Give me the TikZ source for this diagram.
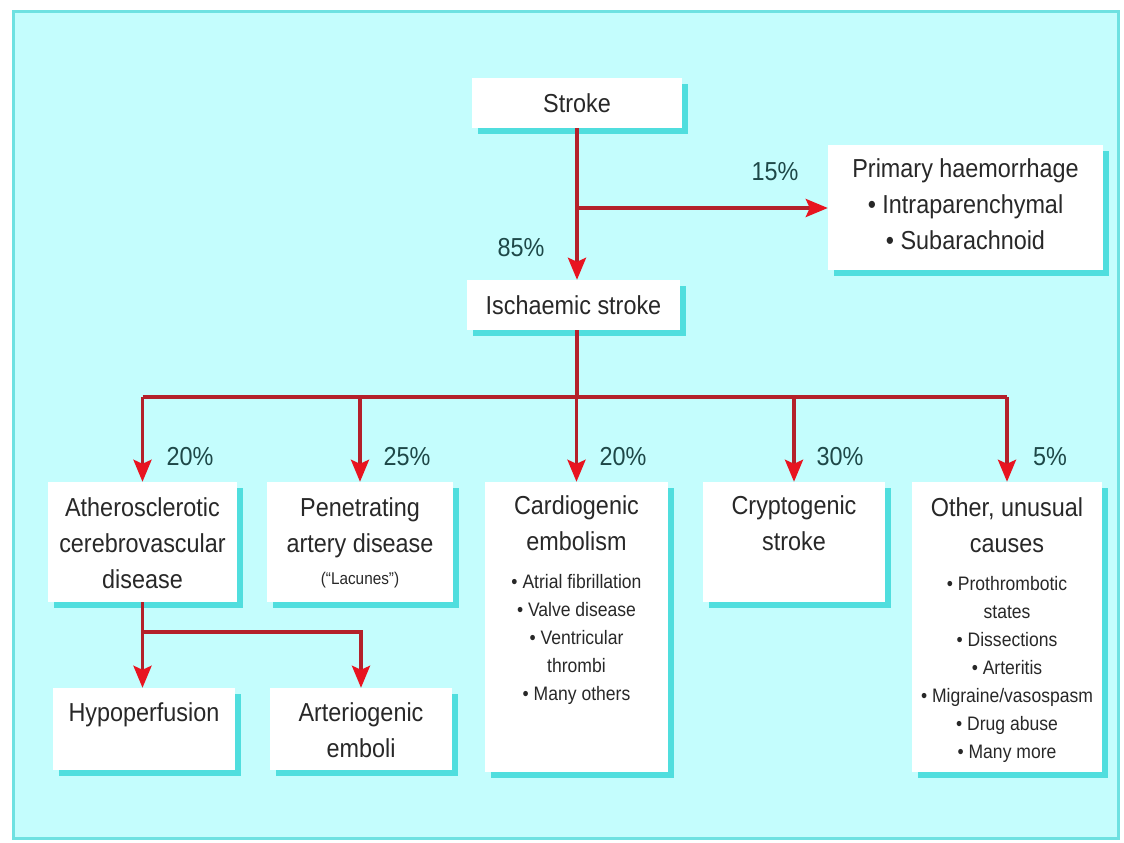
\documentclass[tikz,border=0pt]{standalone}
\usepackage{fontspec}
\setmainfont{Liberation Sans}[FakeStretch=0.9]
\usetikzlibrary{arrows.meta,shadows}
\definecolor{bgcyan}{RGB}{196,253,253}
\definecolor{framecyan}{RGB}{110,225,225}
\definecolor{shadowcyan}{RGB}{80,222,222}
\definecolor{linered}{RGB}{180,32,42}
\definecolor{tipred}{RGB}{232,20,32}
\definecolor{txt}{RGB}{40,40,40}
\definecolor{pct}{RGB}{30,72,72}
\newcommand{\bigf}{\fontsize{26}{36}\selectfont}
\newcommand{\smallf}{\fontsize{19.5}{28}\selectfont}
\newcommand{\bxt}[4]{\parbox[c][#2pt][t]{#1pt}{\bigf\centering\rule{0pt}{#3pt}#4\par}}
\tikzset{
  box/.style={fill=white, inner sep=0pt, text=txt,
    drop shadow={shadow xshift=6pt, shadow yshift=-6pt, fill=shadowcyan, opacity=1}},
  ln/.style={draw=linered, line width=3.5pt},
  arr/.style={ln, -{Stealth[length=22pt,width=18pt,inset=4pt,fill=tipred,color=tipred]}},
  pctlab/.style={text=pct, font=\bigf, inner sep=0pt}
}
\begin{document}
\begin{tikzpicture}[x=1pt,y=-1pt]
\useasboundingbox (0,0) rectangle (1124,843);
\fill[white] (0,0) rectangle (1124,843);
\draw[framecyan, line width=3pt, fill=bgcyan] (13,12) rectangle (1118,838);

% boxes
\node[box] (stroke) at (577,103) {\bxt{210}{50}{34}{Stroke}};
\node[box] (primary) at (965.5,207.5) {\bxt{275}{125}{32}{Primary haemorrhage\\• Intraparenchymal\\• Subarachnoid}};
\node[box] (isch) at (573.5,305) {\bxt{213}{50}{34}{Ischaemic stroke}};
\node[box] (athero) at (142.5,542) {\bxt{189}{120}{34}{Atherosclerotic\\cerebrovascular\\disease}};
\node[box] (pen) at (360,542) {\bxt{186}{120}{34}{Penetrating\\artery disease\\[-4pt]{\fontsize{17}{20}\selectfont (“Lacunes”)}}};
\node[box] (cardio) at (576.5,627) {\bxt{183}{290}{32}{Cardiogenic\\embolism\par\smallf\vspace{10pt}• Atrial fibrillation\\• Valve disease\\• Ventricular\\thrombi\\• Many others}};
\node[box] (crypto) at (794,542) {\bxt{182}{120}{32}{Cryptogenic\\stroke}};
\node[box] (other) at (1007,627) {\bxt{190}{290}{34}{Other, unusual\\causes\par\smallf\vspace{10pt}• Prothrombotic\\states\\• Dissections\\• Arteritis\\• Migraine/vasospasm\\• Drug abuse\\• Many more}};
\node[box] (hypo) at (144,729) {\bxt{182}{82}{33}{Hypoperfusion}};
\node[box] (arterio) at (361,729) {\bxt{182}{82}{33}{Arteriogenic\\emboli}};

% percentages
\node[pctlab] (p15) at (775,172) {15\%};
\node[pctlab] (p85) at (521,248) {85\%};
\node[pctlab] (pa) at (190,457) {20\%};
\node[pctlab] (pb) at (407,457) {25\%};
\node[pctlab] (pc) at (623,457) {20\%};
\node[pctlab] (pd) at (840,457) {30\%};
\node[pctlab] (pe) at (1050,457) {5\%};

% connectors
\coordinate (br1) at (577,208);
\coordinate (bus) at (577,397);
\coordinate (bus2) at (143,632);
\draw[arr] (stroke.south) -- (stroke.south |- isch.north);
\draw[arr] (br1) -- (br1 -| primary.west);
\draw[ln] (bus |- isch.south) -- (bus);
\draw[ln] (bus -| athero.north) -- (bus -| other.north);
\foreach \n in {athero,pen,cardio,crypto,other}
  \draw[arr] (bus -| \n.north) -- (\n.north);
\draw[arr] (athero.south) -- (athero.south |- hypo.north);
\draw[arr] (athero.south |- bus2) -| (arterio.north);
\end{tikzpicture}
\end{document}
